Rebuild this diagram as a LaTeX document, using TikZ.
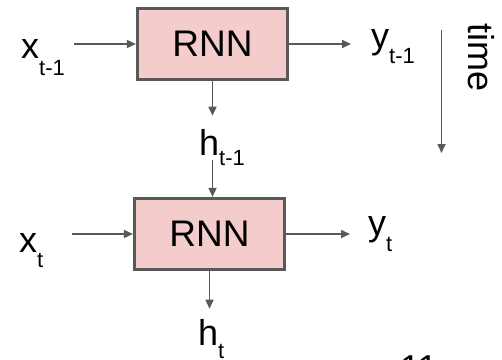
\documentclass[tikz,border=0pt]{standalone}
\usepackage{fontspec}
\setmainfont{Liberation Sans}
\usetikzlibrary{arrows.meta}
\definecolor{edgegray}{HTML}{595959}
\definecolor{boxfill}{HTML}{F4CCCC}
\newcommand{\lblsub}[3]{\fontsize{36}{36}\selectfont #1\raisebox{-#3pt}{\fontsize{22}{22}\selectfont #2}}
\begin{document}
\begin{tikzpicture}[x=1pt,y=-1pt,
  rnnbox/.style={draw=edgegray, line width=3.2pt, fill=boxfill, minimum width=150pt,
    minimum height=71pt, inner sep=0pt, font=\fontsize{37}{37}\selectfont},
  lab/.style={anchor=base west, inner sep=0pt},
  flow/.style={draw=edgegray, line width=1.6pt, -{Triangle[length=9pt,width=8pt]}}]
\useasboundingbox (0,0) rectangle (502,359);
\fill[white] (0,0) rectangle (502,359);

\node[rnnbox] (r1) at (212.5,44) {RNN};
\node[rnnbox] (r2) at (209.5,234) {RNN};

\node[lab] (x1) at (21,58) {\lblsub{x}{t-1}{17}};
\node[lab] (y1) at (371,48) {\lblsub{y}{t-1}{15}};
\node[lab] (h1) at (199,155) {\lblsub{h}{t-1}{10}};
\node[lab] (x2) at (19,252) {\lblsub{x}{t}{15}};
\node[lab] (y2) at (368,235) {\lblsub{y}{t}{16}};
\node[lab] (h2) at (198,345) {\lblsub{h}{t}{13}};

\draw[flow, shorten <=9pt] (r1.west -| x1.east) -- (r1.west);
\draw[flow, shorten >=20pt] (r1.east) -- (r1.east -| y1.west);
\draw[flow, shorten >=13pt] (r1.south) -- (r1.south |- h1.north);
\draw[flow] ([yshift=-5pt]h1.base -| r1.south) -- (r1.south |- r2.north);

\draw[flow, shorten <=28pt] (r2.west -| x2.east) -- (r2.west);
\draw[flow, shorten >=18pt] (r2.east) -- (r2.east -| y2.west);
\draw[flow, shorten >=10pt] (r2.south) -- (r2.south |- h2.north);

\coordinate (t0) at (441.5,30);
\coordinate (t1) at (441.5,153);
\draw[flow] (t0) -- (t1);
\node[rotate=-90, anchor=base west, inner sep=0pt, font=\fontsize{36}{36}\selectfont] (time) at (468,23) {time};

\begin{scope}
\clip (0,0) rectangle (502,359);
\node[anchor=base west, inner sep=0pt, font=\fontsize{36}{36}\selectfont] (pg) at (400,380) {11};
\end{scope}
\end{tikzpicture}
\end{document}
